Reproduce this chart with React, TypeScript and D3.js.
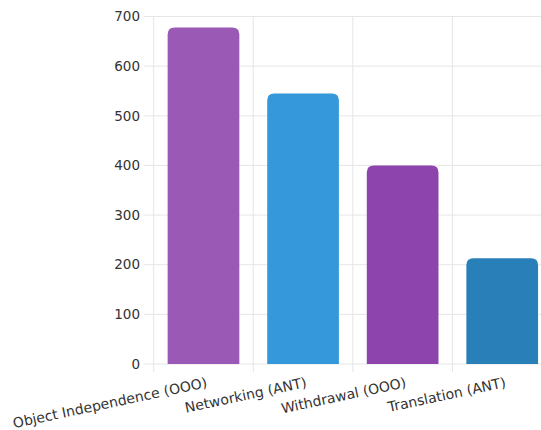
import React from "react";
import * as d3 from "d3";

const categories = ["Object Independence (OOO)", "Networking (ANT)", "Withdrawal (OOO)", "Translation (ANT)"];
const values = [678, 545, 400, 213];
const colors = ["#9b59b6", "#3498db", "#8e44ad", "#2980b9"];
const yTicks = [0, 100, 200, 300, 400, 500, 600, 700];

const W = 541, H = 430;
const left = 153.7, right = 552, top = 16.5, bottom = 364;
const FONT = "'DejaVu Sans', sans-serif";

function topRounded(x: number, y: number, w: number, h: number, r: number) {
  const rr = Math.min(r, w / 2, h);
  return `M${x},${y + h}V${y + rr}Q${x},${y} ${x + rr},${y}H${x + w - rr}Q${x + w},${y} ${x + w},${y + rr}V${y + h}Z`;
}

export default function App() {
  const x = d3.scaleBand<string>().domain(categories).range([left, right]).paddingInner(0).paddingOuter(0);
  const y = d3.scaleLinear().domain([0, 700]).range([bottom, top]);
  const bw = x.bandwidth() * 0.72;
  const edges = categories.map((c) => x(c) as number);
  return (
    <svg width={W} height={H} style={{ position: "absolute", left: 0, top: 0, background: "#fff" }}>
      <g>
        {yTicks.map((t) => (
          <line key={"h" + t} x1={left - 10} x2={W} y1={y(t)} y2={y(t)} stroke="#e6e6e6" strokeWidth={1} />
        ))}
        {edges.map((e, i) => (
          <line key={"v" + i} x1={e} x2={e} y1={top} y2={bottom + 8} stroke="#e6e6e6" strokeWidth={1} />
        ))}
      </g>
      {categories.map((c, i) => {
        const cx = (x(c) as number) + x.bandwidth() / 2;
        return (
          <path key={c} d={topRounded(cx - bw / 2, y(values[i]), bw, bottom - y(values[i]), 7)} fill={colors[i]} />
        );
      })}
      {yTicks.map((t) => (
        <text key={"t" + t} x={140} y={y(t)} dy="0.35em" textAnchor="end" fontFamily={FONT} fontSize={13.5} fill="#333">
          {t}
        </text>
      ))}
      {categories.map((c) => {
        const cx = (x(c) as number) + x.bandwidth() / 2;
        return (
          <text key={"l" + c} transform={`translate(${cx + 2},${376}) rotate(-12)`} dy="0.8em" textAnchor="end" fontFamily={FONT} fontSize={14} fill="#333">
            {c}
          </text>
        );
      })}
    </svg>
  );
}
